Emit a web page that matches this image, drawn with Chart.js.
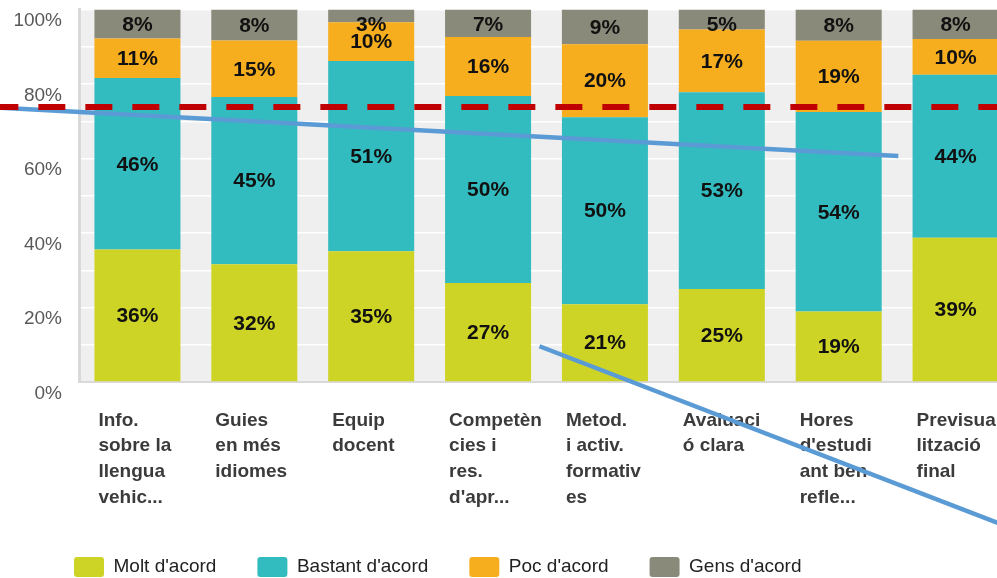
<!DOCTYPE html>
<html>
<head>
<meta charset="utf-8">
<script src="https://cdn.jsdelivr.net/npm/chart.js@4.4.1/dist/chart.umd.min.js"></script>
<style>
    html, body { margin: 0; padding: 0; overflow: hidden; background: #fff; }
    #chart { display: block; }
</style>
</head>
<body>
<canvas id="chart" width="1014" height="587"></canvas>
<script>
const categories = [
    ['Info.', 'sobre la', 'llengua', 'vehic...'],
    ['Guies', 'en més', 'idiomes'],
    ['Equip', 'docent'],
    ['Competèn', 'cies i', 'res.', "d'apr..."],
    ['Metod.', 'i activ.', 'formativ', 'es'],
    ['Avaluaci', 'ó clara'],
    ['Hores', "d'estudi", 'ant ben', 'refle...'],
    ['Previsua', 'lització', 'final']
];

const moltAcord = [35.6, 31.6, 35.1, 26.6, 20.9, 25.0, 18.9, 38.7];
const bastantAcord = [46.0, 44.9, 51.1, 50.2, 50.2, 52.8, 53.6, 43.8];
const pocAcord = [10.6, 15.2, 10.4, 15.8, 19.6, 16.8, 19.1, 9.6];
const gensAcord = [7.8, 8.3, 3.4, 7.4, 9.3, 5.4, 8.4, 7.9];

const yTickLabels = [0, 20, 40, 60, 80, 100];

// lines drawn on top of the chart: [category position, percent] //
const redDashLine = [[-1.25, 73.8], [7.6, 73.8]];
const blueLineA = [[-1.17, 73.6], [6.51, 60.7]];
const blueLineB = [[3.44, 9.6], [7.5, -39.5]];

Chart.defaults.font.family = '"Liberation Sans", Arial, sans-serif';

// grey plot background //
const plotBackground = {
    id: 'plotBackground',
    beforeDraw(chart) {
        const { ctx, chartArea } = chart;
        ctx.save();
        ctx.fillStyle = '#efefef';
        ctx.fillRect(chartArea.left, chartArea.top, chartArea.right - chartArea.left, chartArea.bottom - chartArea.top);
        ctx.restore();
    }
};

// move the legend in line with the plot //
const legendShift = {
    id: 'legendShift',
    afterLayout(chart) {
        chart.legend.left = 33;
    }
};

// percent labels inside the bars //
const barLabels = {
    id: 'barLabels',
    afterDatasetsDraw(chart) {
        const ctx = chart.ctx;
        ctx.save();
        ctx.font = 'bold 21px "Liberation Sans", Arial, sans-serif';
        ctx.fillStyle = '#111';
        ctx.textAlign = 'center';
        ctx.textBaseline = 'middle';
        chart.data.datasets.forEach((ds, i) => {
            chart.getDatasetMeta(i).data.forEach((bar, j) => {
                const y = Math.max((bar.y + bar.base) / 2 + 1, chart.chartArea.top + 16);
                ctx.fillText(Math.round(ds.data[j]) + '%', bar.x, y);
            });
        });
        ctx.restore();
    }
};

// red dashed line and blue strokes //
const overlayLines = {
    id: 'overlayLines',
    afterDraw(chart) {
        const { ctx, scales } = chart;
        const stroke = (points, color, width, dash) => {
            ctx.save();
            ctx.strokeStyle = color;
            ctx.lineWidth = width;
            ctx.setLineDash(dash);
            ctx.beginPath();
            points.forEach(([cx, cy], i) => {
                const px = scales.x.getPixelForValue(cx);
                const py = scales.y.getPixelForValue(cy);
                if (i === 0) ctx.moveTo(px, py);
                else ctx.lineTo(px, py);
            });
            ctx.stroke();
            ctx.restore();
        };
        stroke(blueLineA, '#5b9bd5', 4.5, []);
        stroke(blueLineB, '#5b9bd5', 4.5, []);
        stroke(redDashLine, '#c00000', 6, [27, 20]);
    }
};

const chart = document.querySelector('#chart').getContext('2d');

new Chart(chart, {
    type: 'bar',
    data: {
        labels: categories,
        datasets: [
            { label: "Molt d'acord", data: moltAcord, backgroundColor: '#ced426' },
            { label: "Bastant d'acord", data: bastantAcord, backgroundColor: '#33bcbf' },
            { label: "Poc d'acord", data: pocAcord, backgroundColor: '#f6ae1f' },
            { label: "Gens d'acord", data: gensAcord, backgroundColor: '#8a8a7a' }
        ]
    },
    options: {
        responsive: false,
        animation: false,
        barPercentage: 0.736,
        categoryPercentage: 1,
        layout: { padding: { top: 9.5, left: 0, right: 0, bottom: 0 } },
        plugins: {
            tooltip: { enabled: false },
            legend: {
                position: 'bottom',
                align: 'start',
                labels: {
                    boxWidth: 30,
                    boxHeight: 20,
                    padding: 41,
                    color: '#222',
                    font: { size: 19 },
                    useBorderRadius: true,
                    borderRadius: 3
                }
            }
        },
        scales: {
            x: {
                stacked: true,
                grid: { display: false, drawTicks: false },
                border: { display: true, color: '#d9d9d9', width: 2 },
                ticks: {
                    autoSkip: false,
                    maxRotation: 0,
                    minRotation: 0,
                    align: 'start',
                    labelOffset: -39,
                    padding: 25.7,
                    color: '#3b3b3b',
                    font: { size: 19, weight: 'bold', lineHeight: 1.35 }
                },
                afterFit: (scale) => {
                    scale.paddingLeft = 0;
                    scale.paddingRight = 0;
                    scale.height = 134;
                }
            },
            y: {
                stacked: true,
                min: 0,
                max: 100,
                grid: { color: '#ffffff', lineWidth: 1.5, drawTicks: false },
                border: { display: true, color: '#d9d9d9', width: 3 },
                ticks: {
                    stepSize: 10,
                    padding: 17,
                    labelOffset: 11.5,
                    color: '#595959',
                    font: { size: 19 },
                    callback: (value) => yTickLabels.includes(value) ? value + '%' : ''
                },
                afterFit: (scale) => {
                    scale.width = 79;
                    scale.paddingTop = 0;
                    scale.paddingBottom = 0;
                }
            }
        }
    },
    plugins: [plotBackground, legendShift, barLabels, overlayLines]
});
</script>
</body>
</html>
